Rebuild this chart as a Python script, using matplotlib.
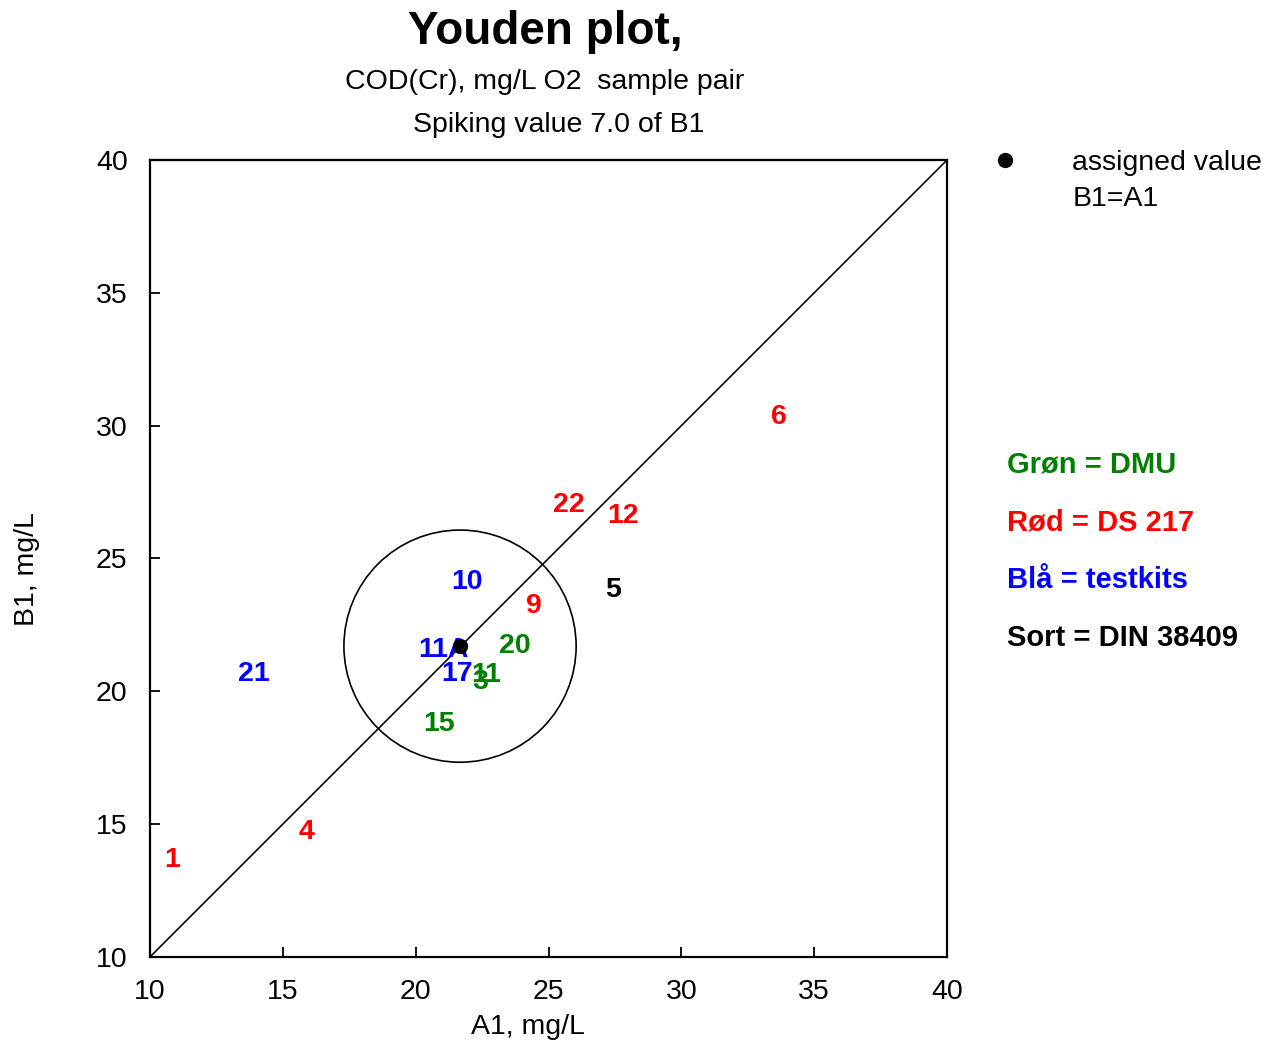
import matplotlib
matplotlib.use('Agg')
import matplotlib.pyplot as plt
from matplotlib.patches import Circle
from matplotlib.lines import Line2D

plt.rcParams['font.family'] = ['Liberation Sans', 'DejaVu Sans']

# Lab results (A1, B1) and their group
labs = ['1', '4', '21', '15', '11A', '17', '3', '11', '20', '10', '9', '5', '22', '12', '6']
a1 = [10.83, 15.91, 13.91, 20.88, 21.03, 21.55, 22.42, 22.65, 23.74, 21.93, 24.45, 27.43, 25.77, 27.80, 33.67]
b1 = [13.76, 14.82, 20.76, 18.88, 21.67, 20.76, 20.46, 20.72, 21.82, 24.23, 23.32, 23.93, 27.12, 26.71, 30.44]
groups = ['DS', 'DS', 'kit', 'DMU', 'kit', 'kit', 'DMU', 'DMU', 'DMU', 'kit', 'DS', 'DIN', 'DS', 'DS', 'DS']

group_colors = {'DMU': 'green', 'DS': 'red', 'kit': 'blue', 'DIN': 'black'}
group_text = ['Grøn = DMU', 'Rød = DS 217', 'Blå = testkits', 'Sort = DIN 38409']
group_keys = ['DMU', 'DS', 'kit', 'DIN']

assigned_a1 = 21.67
assigned_b1 = 21.70
circle_radius = 4.37

fs = 20.5

fig = plt.figure(figsize=(12.85, 10.43), dpi=100)
ax = fig.add_axes([0.1167, 0.0825, 0.6203, 0.7641])

ax.plot([10, 40], [10, 40], color='black', lw=1.2)
ax.add_patch(Circle((assigned_a1, assigned_b1), circle_radius, fill=False, color='black', lw=1.2))

for lab, x, y, g in zip(labs, a1, b1, groups):
    ax.text(x, y, lab, color=group_colors[g], fontsize=fs, fontweight='bold',
            ha='center', va='center_baseline')

ax.plot([assigned_a1], [assigned_b1], 'o', color='black', ms=10, zorder=5)

ax.set_xlim(10, 40)
ax.set_ylim(10, 40)
ax.set_xticks(range(10, 41, 5))
ax.set_yticks(range(10, 41, 5))
ax.tick_params(direction='in', length=7, width=1.3, labelsize=fs, top=False, right=False)
ax.tick_params(axis='x', pad=16)
ax.tick_params(axis='y', pad=16)
for s in ax.spines.values():
    s.set_linewidth(1.6)
ax.set_xlabel('A1, mg/L', fontsize=fs)
ax.set_ylabel('B1, mg/L', fontsize=fs)
ax.xaxis.set_label_coords(0.474, -0.072)
ax.yaxis.set_label_coords(-0.138, 0.487)

fig.text(0.424, 0.969, 'Youden plot,', fontsize=33, fontweight='bold', ha='center', va='center')
fig.text(0.424, 0.921, 'COD(Cr), mg/L O2  sample pair', fontsize=fs, ha='center', va='center')
fig.text(0.435, 0.880, 'Spiking value 7.0 of B1', fontsize=fs, ha='center', va='center')

handles = [Line2D([], [], marker='o', color='black', ls='none', ms=10),
           Line2D([], [], ls='none')]
fig.legend(handles, ['assigned value', 'B1=A1'], loc='upper left', bbox_to_anchor=(0.757, 0.867),
           frameon=False, fontsize=fs, handlelength=1.5, handletextpad=1.6, labelspacing=0.35,
           borderaxespad=0)

for i, (t, k) in enumerate(zip(group_text, group_keys)):
    fig.text(0.784, 0.555 - i * 0.0555, t, color=group_colors[k], fontsize=21, fontweight='bold',
             ha='left', va='center')

fig.savefig('out.png', dpi=100)
